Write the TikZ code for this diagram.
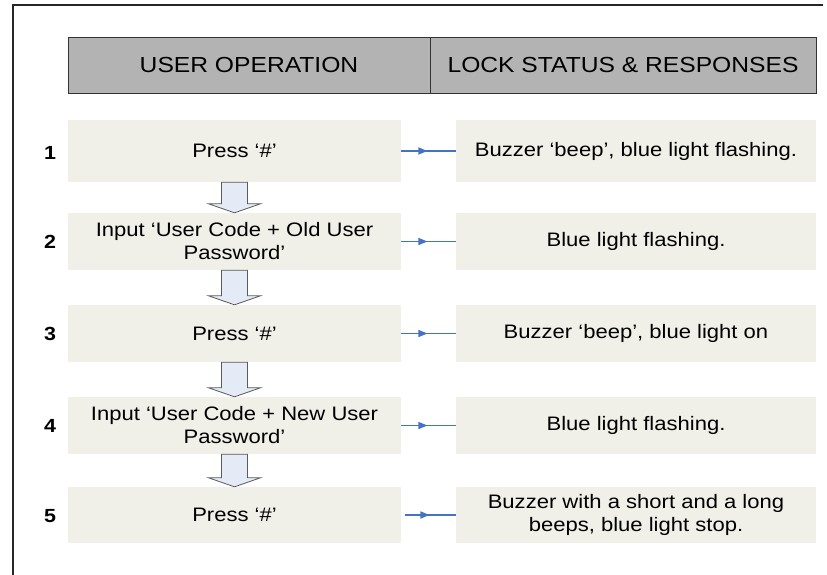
\documentclass[tikz,border=0pt]{standalone}
\usepackage{fontspec}
\setmainfont{Liberation Sans}[FakeStretch=1.13]
\usetikzlibrary{calc,decorations.markings,arrows.meta}
\definecolor{boxfill}{HTML}{F0F0E8}
\definecolor{headfill}{HTML}{B3B3B3}
\definecolor{arrfill}{HTML}{E4EBF6}
\definecolor{arrdraw}{HTML}{5A5A5A}
\definecolor{linkblue}{HTML}{4472C4}
\tikzset{
  headcell/.style={draw=black!80, line width=0.8pt, fill=headfill, inner sep=0pt,
    minimum height=56pt, font=\fontsize{21.8}{26}\selectfont},
  opbox/.style={fill=boxfill, inner sep=0pt, minimum width=333pt, align=center,
    font=\fontsize{19.5}{23}\selectfont},
  resbox/.style={fill=boxfill, inner sep=0pt, minimum width=360pt, align=center,
    font=\fontsize{19.5}{23}\selectfont},
  numlabel/.style={font=\fontsize{19}{22}\selectfont\bfseries},
  blockarr/.style={draw=arrdraw, line width=0.8pt, fill=arrfill},
  link/.style={draw=linkblue, line width=1.4pt, postaction={decorate},
    decoration={markings, mark=at position 0.48 with {\arrow{Triangle[length=9pt,width=7pt]}}}}
}
\newcommand\blockarrow[2]{%
  \draw[blockarr] ($(#1.south)+(-13,0)$) -- ($(#2.north)+(-13,-9)$) -- ($(#2.north)+(-26,-9)$)
    -- (#2.north) -- ($(#2.north)+(26,-9)$) -- ($(#2.north)+(13,-9)$) -- ($(#1.south)+(13,0)$) -- cycle;}
\begin{document}
\begin{tikzpicture}[x=1pt,y=-1pt]
\useasboundingbox (0,0) rectangle (827,575);
\draw[line width=2pt, black!85] (13,575) -- (13,5) -- (823,5);
% header
\node[headcell, minimum width=362pt] (h1) at (249,65) {USER OPERATION};
\node[headcell, minimum width=386pt] (h2) at (623,65) {LOCK STATUS \& RESPONSES};
% rows
\node[opbox, minimum height=62pt] (L1) at (234.5,151) {Press ‘\#’};
\node[resbox, minimum height=62pt] (R1) at (636,151) {Buzzer ‘beep’, blue light flashing.};
\node[opbox, minimum height=57pt] (L2) at (234.5,241.5) {Input ‘User Code + Old User\\Password’};
\node[resbox, minimum height=57pt] (R2) at (636,241.5) {Blue light flashing.};
\node[opbox, minimum height=57pt] (L3) at (234.5,333.5) {Press ‘\#’};
\node[resbox, minimum height=57pt] (R3) at (636,333.5) {Buzzer ‘beep’, blue light on};
\node[opbox, minimum height=57pt] (L4) at (234.5,425.5) {Input ‘User Code + New User\\Password’};
\node[resbox, minimum height=57pt] (R4) at (636,425.5) {Blue light flashing.};
\node[opbox, minimum height=56pt] (L5) at (234.5,515) {Press ‘\#’};
\node[resbox, minimum height=56pt] (R5) at (636,515) {Buzzer with a short and a long\\beeps, blue light stop.};
% numbers
\node[numlabel] (n1) at (50,153) {1};
\node[numlabel] (n2) at (50,241.5) {2};
\node[numlabel] (n3) at (50,333.5) {3};
\node[numlabel] (n4) at (50,425.5) {4};
\node[numlabel] (n5) at (50,516) {5};
% block arrows
\blockarrow{L1}{L2}
\blockarrow{L2}{L3}
\blockarrow{L3}{L4}
\blockarrow{L4}{L5}
% links
\draw[link] (L1.east) -- (R1.west);
\draw[link] (L2.east) -- (R2.west);
\draw[link] (L3.east) -- (R3.west);
\draw[link] (L4.east) -- (R4.west);
\draw[link] ($(L5.east)+(4,0)$) -- (R5.west);
\end{tikzpicture}
\end{document}
